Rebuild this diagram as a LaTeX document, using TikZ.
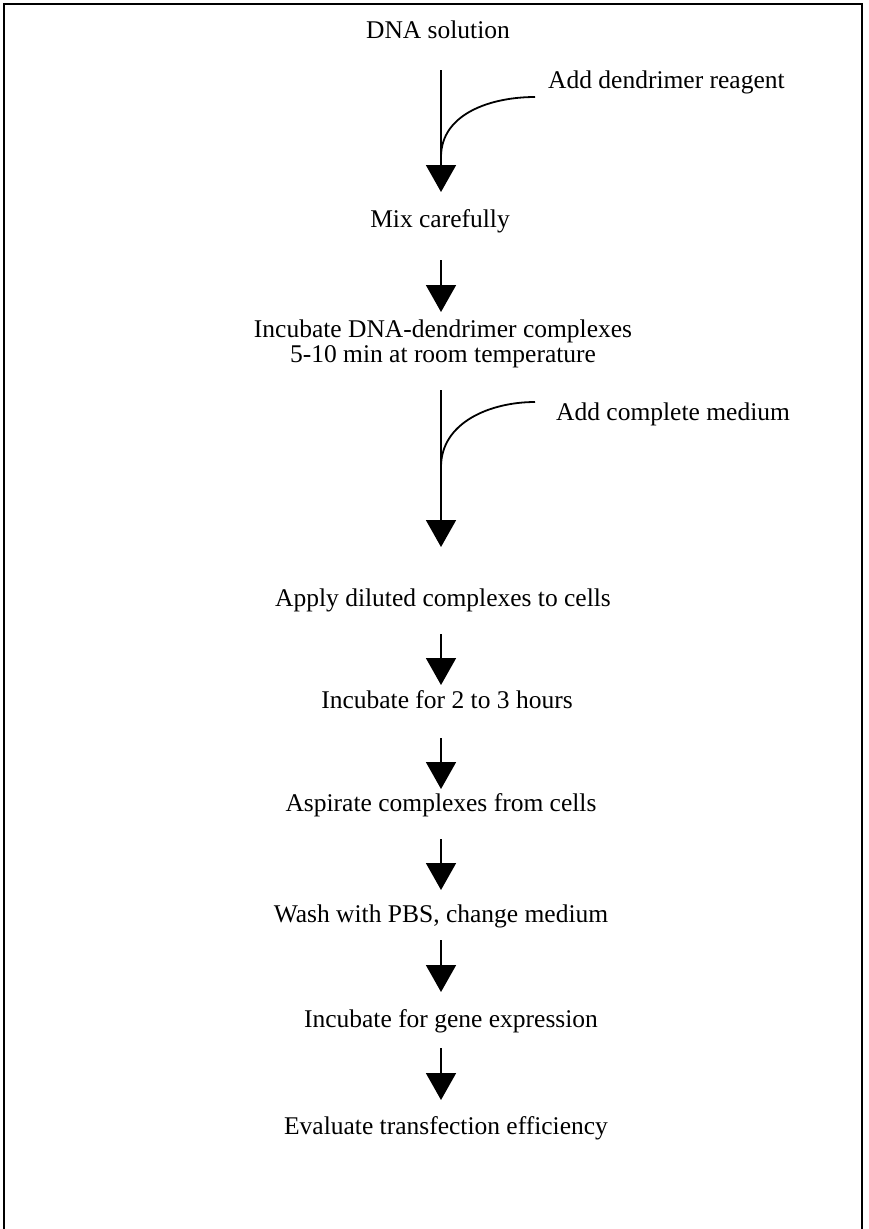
\documentclass[tikz,border=0pt]{standalone}
\usepackage{fontspec}
\setmainfont{Liberation Serif}
\usetikzlibrary{arrows.meta}
\begin{document}
\begin{tikzpicture}[x=1pt,y=-1pt,
  lbl/.style={inner sep=0pt,font=\fontsize{25.5}{30}\selectfont,anchor=base},
  side/.style={lbl,anchor=base west},
  arr/.style={line width=1.8pt,-{Triangle[width=30pt,length=27pt]}},
  feed/.style={line width=1.8pt}]
\useasboundingbox (0,0) rectangle (868,1229);
\draw[line width=2.8pt] (4,1229) -- (4,4) -- (862,4) -- (862,1229);
% texts
\node[lbl] (t1) at (438,38) {DNA solution};
\node[side] (f1) at (548,88) {Add dendrimer reagent};
\node[lbl] (t2) at (440,227) {Mix carefully};
\node[lbl] (t3a) at (443,337) {Incubate DNA-dendrimer complexes};
\node[lbl] (t3b) at (443,362) {5-10 min at room temperature};
\node[side] (f2) at (556,420) {Add complete medium};
\node[lbl] (t4) at (443,606) {Apply diluted complexes to cells};
\node[lbl] (t5) at (447,708) {Incubate for 2 to 3 hours};
\node[lbl] (t6) at (441,811) {Aspirate complexes from cells};
\node[lbl] (t7) at (441,922) {Wash with PBS, change medium};
\node[lbl] (t8) at (451,1027) {Incubate for gene expression};
\node[lbl] (t9) at (446,1134) {Evaluate transfection efficiency};
% arrow end points
\coordinate (a1s) at (441,70);   \coordinate (a1e) at (441,192);
\coordinate (a2s) at (441,260);  \coordinate (a2e) at (441,312);
\coordinate (a3s) at (441,390);  \coordinate (a3e) at (441,547);
\coordinate (a4s) at (441,634);  \coordinate (a4e) at (441,685);
\coordinate (a5s) at (441,738);  \coordinate (a5e) at (441,789);
\coordinate (a6s) at (441,839);  \coordinate (a6e) at (441,890);
\coordinate (a7s) at (441,940);  \coordinate (a7e) at (441,992);
\coordinate (a8s) at (441,1048); \coordinate (a8e) at (441,1100);
\coordinate (c1s) at (535,97);   \coordinate (c1e) at (441,157);
\coordinate (c2s) at (535,402);  \coordinate (c2e) at (441,467);
\draw[arr] (a1s) -- (a1e);
\draw[arr] (a2s) -- (a2e);
\draw[arr] (a3s) -- (a3e);
\draw[arr] (a4s) -- (a4e);
\draw[arr] (a5s) -- (a5e);
\draw[arr] (a6s) -- (a6e);
\draw[arr] (a7s) -- (a7e);
\draw[arr] (a8s) -- (a8e);
\draw[feed] (c1s) to[out=180,in=90] (c1e);
\draw[feed] (c2s) to[out=180,in=90] (c2e);
\end{tikzpicture}
\end{document}
